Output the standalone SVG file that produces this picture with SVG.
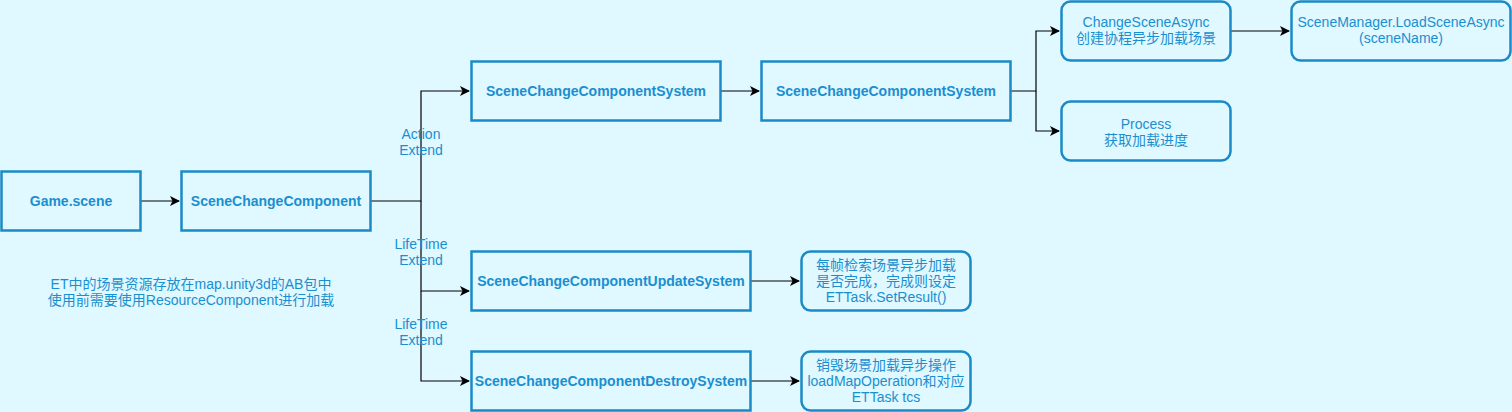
<svg xmlns="http://www.w3.org/2000/svg" width="1512" height="412" viewBox="0 0 1512 412">
<defs>
<marker id="arr" viewBox="0 0 10 10" refX="9" refY="5" markerWidth="10" markerHeight="10" markerUnits="userSpaceOnUse" orient="auto">
<path d="M0,0 L10,5 L0,10 L2.5,5 Z" fill="#000"/>
</marker>
<style>
.bg{fill:#e0f8ff}
.box{fill:#e0f8ff;stroke:#1a8ac6;stroke-width:2.5}
.t{font-family:"Liberation Sans",Arial,"Noto Sans CJK SC",sans-serif;font-size:14px;fill:#1a8fd0;text-anchor:middle}
.b{font-weight:bold}
.lbl{font-family:"Liberation Sans",Arial,"Noto Sans CJK SC",sans-serif;font-size:14px;fill:#1a8fd0;text-anchor:middle}
.c{fill:none;stroke:#000;stroke-width:1.2}
</style>
</defs>
<rect class="bg" x="0" y="0" width="1512" height="412"/>
<g id="connectors">
<path class="c" d="M141,201 H179" marker-end="url(#arr)"/>
<path class="c" d="M371,201 H421 V91 H469" marker-end="url(#arr)"/>
<path class="c" d="M421,201 V291 H469" marker-end="url(#arr)"/>
<path class="c" d="M421,291 V381 H469" marker-end="url(#arr)"/>
<path class="c" d="M721,91 H759" marker-end="url(#arr)"/>
<path class="c" d="M1011,91 H1036 V31 H1059" marker-end="url(#arr)"/>
<path class="c" d="M1036,91 V131 H1059" marker-end="url(#arr)"/>
<path class="c" d="M1231,31 H1289" marker-end="url(#arr)"/>
<path class="c" d="M751,281 H799" marker-end="url(#arr)"/>
<path class="c" d="M751,381 H799" marker-end="url(#arr)"/>
<text class="lbl" x="421" y="139">Action</text>
<text class="lbl" x="421" y="155">Extend</text>
<text class="lbl" x="421" y="249">LifeTime</text>
<text class="lbl" x="421" y="265">Extend</text>
<text class="lbl" x="421" y="329">LifeTime</text>
<text class="lbl" x="421" y="345">Extend</text>
</g>
<g id="game-scene">
<rect class="box" x="1.5" y="171.5" width="139" height="59"/>
<text class="t b" x="71" y="206">Game.scene</text>
</g>
<g id="scene-change-component">
<rect class="box" x="181.5" y="171.5" width="189" height="59"/>
<text class="t b" x="276" y="206">SceneChangeComponent</text>
</g>
<g id="system1">
<rect class="box" x="471.5" y="61.5" width="249" height="59"/>
<text class="t b" x="596" y="96">SceneChangeComponentSystem</text>
</g>
<g id="system2">
<rect class="box" x="761.5" y="61.5" width="249" height="59"/>
<text class="t b" x="886" y="96">SceneChangeComponentSystem</text>
</g>
<g id="change-scene-async">
<rect class="box" x="1061.5" y="1.5" width="169" height="59" rx="9"/>
<text class="t" x="1146" y="27">ChangeSceneAsync</text>
<text class="t" x="1146" y="43">创建协程异步加载场景</text>
</g>
<g id="scene-manager">
<rect class="box" x="1291.5" y="1.5" width="219" height="59" rx="9"/>
<text class="t" x="1401" y="27">SceneManager.LoadSceneAsync</text>
<text class="t" x="1401" y="43">(sceneName)</text>
</g>
<g id="process">
<rect class="box" x="1061.5" y="101.5" width="169" height="59" rx="9"/>
<text class="t" x="1146" y="129">Process</text>
<text class="t" x="1146" y="145">获取加载进度</text>
</g>
<g id="update-system">
<rect class="box" x="471.5" y="251.5" width="279" height="59"/>
<text class="t b" x="611" y="286">SceneChangeComponentUpdateSystem</text>
</g>
<g id="update-note">
<rect class="box" x="801.5" y="251.5" width="169" height="59" rx="9"/>
<text class="t" x="886" y="270">每帧检索场景异步加载</text>
<text class="t" x="886" y="286">是否完成，完成则设定</text>
<text class="t" x="886" y="302">ETTask.SetResult()</text>
</g>
<g id="destroy-system">
<rect class="box" x="471.5" y="351.5" width="279" height="59"/>
<text class="t b" x="611" y="386">SceneChangeComponentDestroySystem</text>
</g>
<g id="destroy-note">
<rect class="box" x="801.5" y="351.5" width="169" height="59" rx="9"/>
<text class="t" x="886" y="370">销毁场景加载异步操作</text>
<text class="t" x="886" y="386">loadMapOperation和对应</text>
<text class="t" x="886" y="402">ETTask tcs</text>
</g>
<g id="note">
<text class="t" x="191" y="289">ET中的场景资源存放在map.unity3d的AB包中</text>
<text class="t" x="191" y="305">使用前需要使用ResourceComponent进行加载</text>
</g>
</svg>
